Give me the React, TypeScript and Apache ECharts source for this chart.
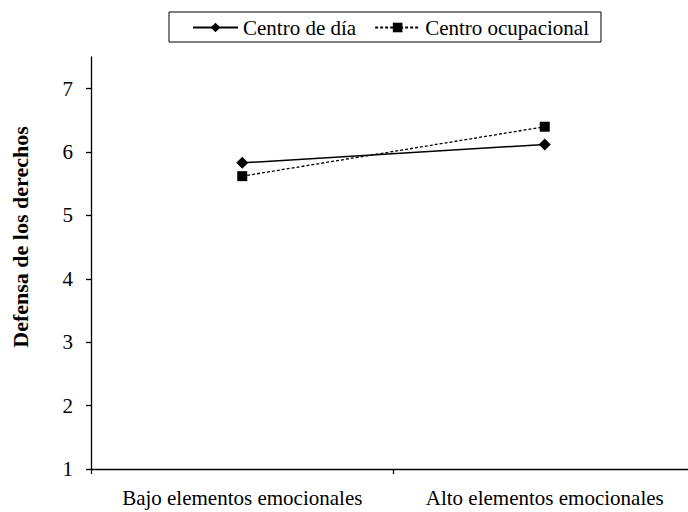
import React, { useEffect, useRef } from "react";
import * as echarts from "echarts";

const categories = ["Bajo elementos emocionales", "Alto elementos emocionales"];
const centroDia = [5.83, 6.12];
const centroOcupacional = [5.62, 6.4];
const yTicks = [1, 2, 3, 4, 5, 6, 7];
const seriesNames = ["Centro de día", "Centro ocupacional"];
const yTitle = "Defensa de los derechos";

const FONT = "'Liberation Serif', 'Times New Roman', serif";

export default function App() {
  const ref = useRef<HTMLDivElement>(null);
  useEffect(() => {
    if (!ref.current) return;
    const chart = echarts.init(ref.current, null, { renderer: "svg" });
    chart.setOption({
      animation: false,
      backgroundColor: "#fff",
      textStyle: { fontFamily: FONT, color: "#000" },
      legend: {
        left: 169,
        top: 12,
        padding: [5, 12, 4, 23],
        borderColor: "#000",
        borderWidth: 1,
        itemGap: 18,
        itemWidth: 45,
        itemHeight: 12,
        textStyle: { fontFamily: FONT, fontSize: 21, color: "#000" },
        data: seriesNames,
      },
      grid: { left: 91, top: 57, width: 605, height: 412, containLabel: false },
      xAxis: {
        type: "category",
        data: categories,
        boundaryGap: true,
        axisLine: { lineStyle: { color: "#000", width: 1.3 } },
        axisTick: { show: true, length: 5, interval: 0, lineStyle: { color: "#000", width: 1.3 } },
        axisLabel: {
          fontFamily: FONT,
          fontSize: 21,
          color: "#000",
          margin: 18,
          interval: 0,
          hideOverlap: false,
        },
        splitLine: { show: false },
      },
      yAxis: {
        type: "value",
        min: 1,
        max: 7.5,
        interval: 1,
        axisLine: { show: true, lineStyle: { color: "#000", width: 1.3 } },
        axisTick: { show: true, length: 5, customValues: yTicks, lineStyle: { color: "#000", width: 1.3 } },
        axisLabel: { fontFamily: FONT, fontSize: 21, color: "#000", margin: 18, customValues: yTicks },
        splitLine: { show: false },
      },
      graphic: [
        {
          type: "text",
          x: 20,
          y: 237,
          rotation: Math.PI / 2,
          style: {
            text: yTitle,
            fontFamily: FONT,
            fontSize: 22,
            fontWeight: "bold",
            fill: "#000",
            align: "center",
            verticalAlign: "middle",
          },
        },
      ],
      series: [
        {
          name: seriesNames[0],
          type: "line",
          data: centroDia,
          symbol: "diamond",
          symbolSize: 12,
          itemStyle: { color: "#000" },
          lineStyle: { color: "#000", width: 1.5, type: "solid" },
        },
        {
          name: seriesNames[1],
          type: "line",
          data: centroOcupacional,
          symbol: "rect",
          symbolSize: 10,
          itemStyle: { color: "#000" },
          lineStyle: { color: "#000", width: 1.3, type: [3, 2] },
        },
      ],
    });
    return () => chart.dispose();
  }, []);
  return (
    <div
      ref={ref}
      style={{ position: "fixed", left: 0, top: 0, width: 700, height: 512, background: "#fff" }}
    />
  );
}
